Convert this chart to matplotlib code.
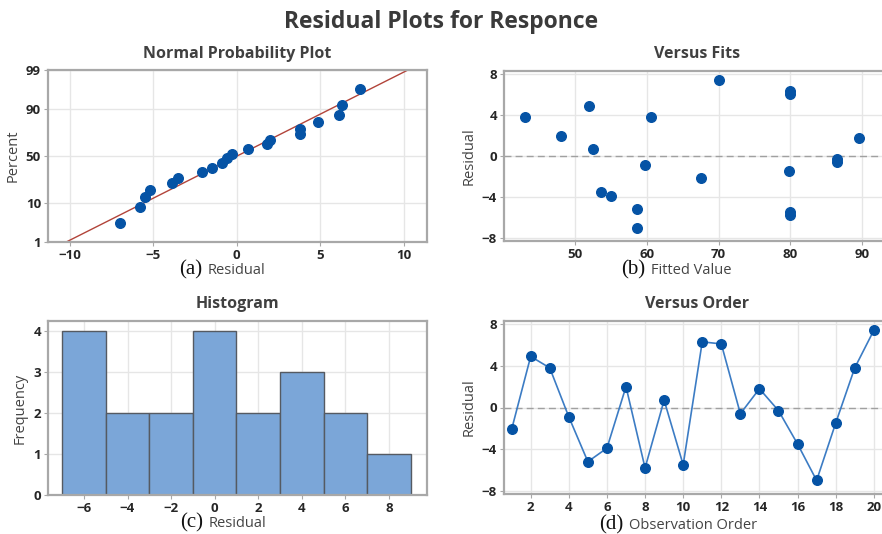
import numpy as np
import matplotlib
matplotlib.use("Agg")
import matplotlib.pyplot as plt
from statistics import NormalDist

# Residuos por orden de observación
orden = list(range(1, 21))
residuos = [-2.1, 4.9, 3.8, -0.9, -5.2, -3.9, 2.0, -5.8, 0.7, -5.5,
            6.3, 6.1, -0.6, 1.8, -0.3, -3.5, -7.0, -1.5, 3.8, 7.4]
ajustados = [67.5, 52.0, 43.0, 59.8, 58.6, 55.0, 48.0, 80.0, 52.5, 80.0,
             80.0, 80.0, 86.5, 89.6, 86.5, 53.6, 58.6, 79.8, 60.6, 70.0]
# Posiciones de probabilidad (percent) para los residuos ordenados
percent = [3.4, 8.3, 13.2, 18.1, 23.0, 27.9, 32.8, 37.7, 42.6, 47.5,
           52.5, 57.4, 62.3, 67.2, 72.1, 77.0, 81.9, 86.8, 91.7, 96.6]
bordes_hist = [-7, -5, -3, -1, 1, 3, 5, 7, 9]

W, H = 882, 534
plt.rcParams['font.family'] = ['Open Sans', 'DejaVu Sans']
fig = plt.figure(figsize=(W / 100, H / 100), dpi=100)

azul = '#0553A5'
gris_txt = '#262626'
gris_eje = '#A8A8A8'


def rect(l, t, r, b):
    return [l / W, 1 - b / H, (r - l) / W, (b - t) / H]


def estilo(ax, titulo):
    for s in ax.spines.values():
        s.set_color(gris_eje)
        s.set_linewidth(1.6)
    ax.grid(True, color='#E6E6E6', lw=1)
    ax.set_axisbelow(True)
    ax.tick_params(length=3, color=gris_eje, labelsize=9.5, labelcolor=gris_txt, pad=2)
    for lab in ax.get_xticklabels() + ax.get_yticklabels():
        lab.set_fontweight('bold')
    ax.set_title(titulo, fontsize=11.5, fontweight='bold', color='#404040', pad=9)


def etiqueta_x(xc, y, letra, texto):
    fig.text(xc / W, 1 - y / H, letra, family='Liberation Serif', fontsize=15,
             ha='right', va='baseline', color='#111111')
    fig.text((xc + 6) / W, 1 - y / H, texto, fontsize=10.5, ha='left',
             va='baseline', color='#444444')


nd = NormalDist()
fwd = np.vectorize(lambda p: nd.inv_cdf(min(max(p, 1e-6), 100 - 1e-6) / 100), otypes=[float])
inv = np.vectorize(lambda z: nd.cdf(z) * 100, otypes=[float])

# (a) Normal Probability Plot
ax1 = fig.add_axes(rect(48, 70, 427, 242))
ax1.set_yscale('function', functions=(fwd, inv))
ax1.set_xlim(-11.3, 11.4)
ax1.set_ylim(1, 99)
ax1.set_yticks([1, 10, 50, 90, 99])
ax1.set_yticklabels(['1', '10', '50', '90', '99'])
ax1.set_xticks([-10, -5, 0, 5, 10])
ax1.minorticks_off()
media = np.mean(residuos)
desv = np.std(residuos, ddof=1)
p_lin = np.array([1, 99])
x_lin = media + desv * np.array([nd.inv_cdf(p / 100) for p in p_lin])
ax1.plot(x_lin, p_lin, color='#B2443A', lw=1)
ax1.scatter(sorted(residuos), percent, s=48, color=azul, zorder=3)
ax1.set_ylabel('Percent', fontsize=10.5, color='#444444', labelpad=4)
estilo(ax1, 'Normal Probability Plot')
etiqueta_x(202, 274, '(a)', 'Residual')

# (b) Versus Fits
ax2 = fig.add_axes(rect(504, 71, 890, 241))
ax2.set_xlim(40.1, 93.9)
ax2.set_ylim(-8.3, 8.3)
ax2.set_xticks([50, 60, 70, 80, 90])
ax2.set_yticks([-8, -4, 0, 4, 8])
ax2.axhline(0, color='#A0A0A0', ls=(0, (5, 3)), lw=1)
ax2.scatter(ajustados, residuos, s=48, color=azul, zorder=3)
ax2.set_ylabel('Residual', fontsize=10.5, color='#444444', labelpad=4)
estilo(ax2, 'Versus Fits')
etiqueta_x(645, 274, '(b)', 'Fitted Value')

# (c) Histogram
ax3 = fig.add_axes(rect(48, 321, 427, 495))
ax3.hist(residuos, bins=bordes_hist, color='#7BA6D8', edgecolor='#555A62', lw=1, zorder=2)
ax3.set_xlim(-7.65, 9.75)
ax3.set_ylim(0, 4.24)
ax3.set_xticks([-6, -4, -2, 0, 2, 4, 6, 8])
ax3.set_yticks([0, 1, 2, 3, 4])
ax3.set_ylabel('Frequency', fontsize=10.5, color='#444444', labelpad=4)
estilo(ax3, 'Histogram')
etiqueta_x(203, 527, '(c)', 'Residual')

# (d) Versus Order
ax4 = fig.add_axes(rect(504, 321, 890, 494))
ax4.set_xlim(0.6, 20.85)
ax4.set_ylim(-8.3, 8.3)
ax4.set_xticks(list(range(2, 21, 2)))
ax4.set_yticks([-8, -4, 0, 4, 8])
ax4.axhline(0, color='#A0A0A0', ls=(0, (5, 3)), lw=1)
ax4.plot(orden, residuos, color='#3C7CC4', lw=1.2, zorder=2)
ax4.scatter(orden, residuos, s=48, color=azul, zorder=3)
ax4.set_ylabel('Residual', fontsize=10.5, color='#444444', labelpad=4)
estilo(ax4, 'Versus Order')
etiqueta_x(623, 529, '(d)', 'Observation Order')

fig.suptitle('Residual Plots for Responce', fontsize=16.5, fontweight='bold',
             color='#3A3A3A', y=1 - 22 / H, va='center')

fig.savefig('out.png', dpi=100)
